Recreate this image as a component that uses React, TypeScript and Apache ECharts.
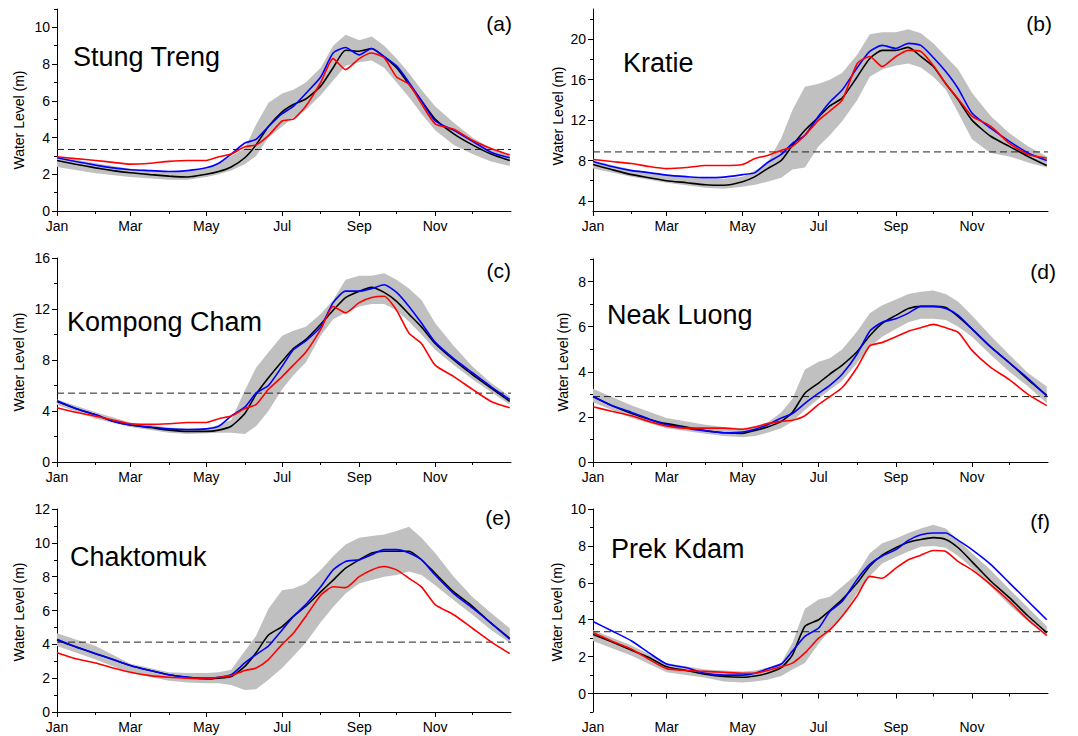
import React, { useEffect, useRef } from 'react';
import * as echarts from 'echarts';

// ---------- shared axes data ----------
const DAYS = [0, 15, 31, 45, 59, 75, 90, 105, 120, 130, 140, 151, 160, 170, 181, 190, 200, 212, 222, 232, 243, 253, 263, 273, 283, 293, 304, 319, 334, 349, 364];
const BAND_DAYS = [0, 31, 59, 90, 105, 120, 130, 140, 151, 160, 170, 181, 190, 200, 212, 222, 232, 243, 253, 263, 273, 283, 293, 304, 319, 334, 349, 364];
const MONTH_TICKS = [0, 59, 120, 181, 243, 304];
const MONTH_LABELS = ['Jan', 'Mar', 'May', 'Jul', 'Sep', 'Nov'];
const MONTH_MINOR_TICKS = [31, 90, 151, 212, 273, 334];

// ---------- (a) Stung Treng ----------
const stungTrengBlack = [2.75, 2.55, 2.35, 2.2, 2.08, 1.98, 1.9, 1.85, 2.0, 2.15, 2.4, 2.9, 3.6, 4.6, 5.4, 5.8, 6.1, 6.8, 7.8, 8.75, 8.7, 8.85, 8.4, 7.8, 6.9, 6.0, 5.0, 4.2, 3.6, 3.1, 2.75];
const stungTrengBlue = [2.9, 2.7, 2.5, 2.35, 2.25, 2.2, 2.15, 2.2, 2.35, 2.6, 3.1, 3.7, 3.9, 4.6, 5.3, 5.7, 6.4, 7.3, 8.6, 8.9, 8.5, 8.85, 8.4, 7.9, 7.0, 6.0, 4.9, 4.4, 3.8, 3.2, 2.9];
const stungTrengRed = [2.95, 2.85, 2.75, 2.65, 2.55, 2.6, 2.7, 2.75, 2.75, 2.95, 3.1, 3.5, 3.6, 4.1, 4.9, 5.0, 5.7, 7.0, 8.3, 7.7, 8.3, 8.6, 8.35, 7.3, 6.9, 5.85, 4.75, 4.45, 3.85, 3.4, 3.05];
const stungTrengUpper = [3.0, 2.6, 2.3, 2.15, 2.15, 2.3, 2.6, 3.0, 3.4, 4.7, 5.9, 6.4, 6.6, 7.0, 7.8, 9.0, 9.6, 9.3, 9.5, 9.0, 8.3, 7.5, 6.6, 5.7, 4.8, 4.0, 3.4, 3.0];
const stungTrengLower = [2.4, 2.05, 1.85, 1.7, 1.7, 1.85, 2.0, 2.2, 2.55, 3.0, 4.0, 4.6, 5.1, 5.5, 6.3, 7.1, 7.9, 8.1, 8.2, 7.8, 7.0, 6.2, 5.3, 4.4, 3.6, 3.1, 2.7, 2.45];
const stungTrengRef = 3.35;

// ---------- (b) Kratie ----------
const kratieBlack = [7.6, 7.1, 6.6, 6.3, 6.0, 5.8, 5.6, 5.55, 5.9, 6.4, 7.2, 8.0, 9.5, 11.0, 12.3, 13.4, 14.2, 16.3, 18.1, 18.9, 18.9, 19.2, 18.3, 17.3, 15.6, 14.0, 12.0, 10.4, 9.4, 8.4, 7.5];
const kratieBlue = [7.9, 7.4, 7.0, 6.8, 6.55, 6.4, 6.3, 6.35, 6.6, 6.8, 7.8, 8.6, 9.7, 10.5, 12.4, 13.8, 15.0, 17.2, 18.8, 19.4, 19.1, 19.6, 19.4, 18.2, 16.8, 15.1, 12.7, 11.2, 9.9, 8.75, 8.0];
const kratieRed = [8.1, 7.9, 7.7, 7.4, 7.2, 7.3, 7.5, 7.5, 7.6, 8.2, 8.5, 9.0, 9.4, 10.5, 12.0, 12.9, 14.0, 17.6, 18.3, 17.3, 18.3, 18.9, 18.8, 17.4, 15.6, 14.1, 12.4, 11.4, 9.7, 8.6, 8.25];
const kratieUpper = [8.0, 7.1, 6.6, 6.2, 6.2, 6.4, 7.0, 7.8, 10.2, 13.0, 15.3, 15.6, 16.0, 16.7, 18.5, 20.5, 20.7, 20.7, 21.0, 20.6, 19.6, 18.3, 17.0, 14.7, 12.4, 10.7, 9.4, 8.4];
const kratieLower = [7.2, 6.4, 5.8, 5.3, 5.2, 5.4, 5.6, 5.9, 6.3, 7.1, 7.3, 9.4, 10.5, 11.9, 14.0, 16.3, 17.0, 17.4, 17.6, 17.2, 16.3, 15.0, 12.7, 10.1, 8.75, 8.4, 7.8, 7.3];
const kratieRef = 8.85;

// ---------- (c) Kompong Cham ----------
const kompongChamBlack = [4.75, 4.2, 3.7, 3.2, 2.9, 2.7, 2.5, 2.4, 2.4, 2.5, 2.8, 3.8, 5.3, 6.6, 7.9, 8.9, 9.6, 10.8, 11.9, 12.9, 13.4, 13.7, 13.3, 12.6, 11.6, 10.6, 9.3, 8.0, 6.85, 5.8, 4.75];
const kompongChamBlue = [4.8, 4.2, 3.7, 3.2, 2.9, 2.75, 2.6, 2.55, 2.6, 2.8, 3.6, 4.3, 5.4, 6.0, 7.5, 8.8, 9.5, 10.6, 12.5, 13.4, 13.4, 13.6, 13.9, 13.3, 12.2, 10.9, 9.4, 8.1, 7.0, 5.9, 4.9];
const kompongChamRed = [4.25, 3.9, 3.6, 3.3, 3.0, 2.95, 3.0, 3.1, 3.1, 3.4, 3.6, 4.2, 4.5, 5.7, 6.7, 7.6, 8.6, 10.4, 12.2, 11.7, 12.5, 12.9, 13.0, 11.9, 10.1, 9.3, 7.6, 6.7, 5.7, 4.75, 4.25];
const kompongChamUpper = [4.9, 3.9, 3.1, 2.7, 2.6, 2.65, 2.9, 3.3, 5.6, 7.4, 8.6, 9.9, 10.3, 10.6, 11.6, 12.7, 14.3, 14.6, 14.6, 14.8, 14.3, 13.6, 12.7, 10.9, 9.1, 7.5, 6.2, 5.15];
const kompongChamLower = [4.5, 3.4, 2.75, 2.3, 2.2, 2.25, 2.3, 2.3, 2.2, 2.8, 4.0, 5.7, 6.8, 7.8, 9.9, 11.2, 11.7, 12.2, 12.4, 12.4, 11.9, 11.0, 10.0, 8.8, 7.6, 6.5, 5.5, 4.5];
const kompongChamRef = 5.4;

// ---------- (d) Neak Luong ----------
const neakLuongBlack = [2.9, 2.5, 2.15, 1.9, 1.7, 1.55, 1.4, 1.3, 1.27, 1.4, 1.55, 1.8, 2.2, 3.05, 3.5, 3.9, 4.3, 4.9, 5.6, 6.15, 6.5, 6.8, 6.9, 6.9, 6.85, 6.45, 5.9, 5.1, 4.4, 3.65, 2.95];
const neakLuongBlue = [2.9, 2.5, 2.2, 1.9, 1.65, 1.5, 1.38, 1.3, 1.33, 1.45, 1.65, 1.95, 2.15, 2.6, 3.05, 3.4, 3.9, 4.8, 5.8, 6.2, 6.35, 6.6, 6.9, 6.9, 6.8, 6.5, 5.9, 5.1, 4.4, 3.7, 2.93];
const neakLuongRed = [2.45, 2.25, 2.05, 1.8, 1.6, 1.5, 1.5, 1.5, 1.45, 1.55, 1.7, 1.8, 1.85, 2.05, 2.55, 2.9, 3.3, 4.2, 5.15, 5.3, 5.55, 5.8, 5.95, 6.1, 5.95, 5.75, 4.95, 4.2, 3.65, 3.0, 2.5];
const neakLuongUpper = [3.25, 2.5, 1.95, 1.65, 1.55, 1.5, 1.6, 1.75, 2.2, 2.8, 4.1, 4.45, 4.6, 5.0, 5.8, 6.6, 6.95, 7.2, 7.45, 7.55, 7.6, 7.45, 7.1, 6.5, 5.6, 4.75, 3.95, 3.35];
const neakLuongLower = [2.65, 1.95, 1.5, 1.25, 1.15, 1.1, 1.15, 1.3, 1.5, 1.8, 2.3, 2.8, 3.2, 3.6, 4.4, 5.1, 5.55, 5.9, 6.2, 6.35, 6.35, 6.3, 6.0, 5.55, 4.75, 4.0, 3.35, 2.6];
const neakLuongRef = 2.9;

// ---------- (e) Chaktomuk ----------
const chaktomukBlack = [4.25, 3.85, 3.45, 3.1, 2.75, 2.45, 2.2, 2.05, 1.95, 2.0, 2.1, 2.7, 3.5, 4.55, 5.05, 5.65, 6.25, 7.1, 7.8, 8.5, 9.0, 9.4, 9.5, 9.5, 9.5, 9.0, 8.2, 7.1, 6.25, 5.25, 4.35];
const chaktomukBlue = [4.3, 3.85, 3.45, 3.1, 2.75, 2.45, 2.2, 2.05, 2.0, 2.05, 2.2, 2.9, 3.4, 3.9, 4.85, 5.65, 6.35, 7.4, 8.4, 8.9, 9.0, 9.3, 9.6, 9.6, 9.4, 9.0, 8.1, 7.0, 6.15, 5.25, 4.3];
const chaktomukRed = [3.5, 3.15, 2.9, 2.6, 2.35, 2.15, 2.05, 2.0, 1.95, 2.05, 2.15, 2.45, 2.6, 3.1, 4.0, 4.65, 5.65, 6.9, 7.4, 7.35, 8.0, 8.4, 8.6, 8.4, 7.9, 7.4, 6.35, 5.75, 4.95, 4.15, 3.45];
const chaktomukUpper = [4.65, 3.9, 2.85, 2.35, 2.3, 2.3, 2.35, 2.5, 3.6, 4.5, 6.1, 7.2, 7.3, 7.6, 8.4, 9.2, 9.9, 10.3, 10.4, 10.5, 10.7, 10.95, 10.3, 9.4, 8.0, 6.8, 5.85, 4.95];
const chaktomukLower = [3.9, 3.1, 2.3, 1.85, 1.75, 1.7, 1.7, 1.6, 1.3, 1.35, 1.9, 2.6, 3.3, 4.1, 5.3, 6.2, 7.0, 7.6, 7.8, 8.0, 8.1, 8.3, 8.1, 7.5, 6.6, 5.75, 4.85, 4.1];
const chaktomukRef = 4.13;

// ---------- (f) Prek Kdam ----------
const prekKdamBlack = [3.2, 2.8, 2.35, 1.95, 1.45, 1.25, 1.05, 0.92, 0.88, 0.95, 1.1, 1.4, 2.1, 3.65, 4.0, 4.5, 5.1, 6.0, 6.9, 7.5, 7.9, 8.2, 8.35, 8.45, 8.35, 7.9, 7.15, 6.1, 5.2, 4.2, 3.3];
const prekKdamBlue = [3.9, 3.4, 2.85, 2.2, 1.6, 1.4, 1.1, 1.0, 1.0, 1.1, 1.35, 1.6, 2.3, 3.1, 3.55, 4.45, 5.0, 6.2, 7.0, 7.45, 7.8, 8.3, 8.6, 8.7, 8.7, 8.3, 7.8, 7.0, 6.0, 5.0, 4.0];
const prekKdamRed = [3.3, 2.85, 2.4, 1.85, 1.35, 1.25, 1.2, 1.15, 1.1, 1.1, 1.25, 1.45, 1.65, 2.2, 3.0, 3.45, 4.2, 5.3, 6.35, 6.25, 6.8, 7.25, 7.5, 7.75, 7.7, 7.15, 6.7, 5.9, 5.0, 4.0, 3.15];
const prekKdamUpper = [3.45, 2.6, 1.65, 1.3, 1.25, 1.2, 1.25, 1.4, 1.65, 2.75, 4.6, 5.1, 5.25, 5.8, 6.5, 7.6, 8.15, 8.4, 8.7, 8.95, 9.15, 8.95, 8.3, 7.6, 6.7, 5.65, 4.65, 3.65];
const prekKdamLower = [2.85, 2.05, 1.15, 0.85, 0.65, 0.6, 0.65, 0.75, 0.95, 1.3, 1.65, 2.7, 3.45, 4.2, 5.45, 6.35, 7.05, 7.4, 7.7, 7.95, 8.0, 7.9, 7.45, 6.8, 5.8, 4.8, 3.9, 3.1];
const prekKdamRef = 3.35;

// ---------- panel definitions ----------
const PANELS = [
  { name: 'Stung Treng', tag: '(a)', black: stungTrengBlack, blue: stungTrengBlue, red: stungTrengRed, upper: stungTrengUpper, lower: stungTrengLower, ref: stungTrengRef, yMin: 0, yMax: 11, yLabels: [0, 2, 4, 6, 8, 10], yMinor: [1, 3, 5, 7, 9, 11] },
  { name: 'Kratie', tag: '(b)', black: kratieBlack, blue: kratieBlue, red: kratieRed, upper: kratieUpper, lower: kratieLower, ref: kratieRef, yMin: 3, yMax: 23, yLabels: [4, 8, 12, 16, 20], yMinor: [6, 10, 14, 18, 22] },
  { name: 'Kompong Cham', tag: '(c)', black: kompongChamBlack, blue: kompongChamBlue, red: kompongChamRed, upper: kompongChamUpper, lower: kompongChamLower, ref: kompongChamRef, yMin: 0, yMax: 16, yLabels: [0, 4, 8, 12, 16], yMinor: [2, 6, 10, 14] },
  { name: 'Neak Luong', tag: '(d)', black: neakLuongBlack, blue: neakLuongBlue, red: neakLuongRed, upper: neakLuongUpper, lower: neakLuongLower, ref: neakLuongRef, yMin: 0, yMax: 9, yLabels: [0, 2, 4, 6, 8], yMinor: [1, 3, 5, 7, 9] },
  { name: 'Chaktomuk', tag: '(e)', black: chaktomukBlack, blue: chaktomukBlue, red: chaktomukRed, upper: chaktomukUpper, lower: chaktomukLower, ref: chaktomukRef, yMin: 0, yMax: 12, yLabels: [0, 2, 4, 6, 8, 10, 12], yMinor: [1, 3, 5, 7, 9, 11] },
  { name: 'Prek Kdam', tag: '(f)', black: prekKdamBlack, blue: prekKdamBlue, red: prekKdamRed, upper: prekKdamUpper, lower: prekKdamLower, ref: prekKdamRef, yMin: -1, yMax: 10, yLabels: [0, 2, 4, 6, 8, 10], yMinor: [-1, 1, 3, 5, 7, 9] },
];

// layout (pixels)
const LAYOUT = [
  { grid: { left: 57, top: 9, width: 454, height: 202 }, title: [73, 57], tag: [512, 23], yname: [19, 120] },
  { grid: { left: 593, top: 9, width: 455, height: 202 }, title: [623, 63], tag: [1052, 23], yname: [558, 116] },
  { grid: { left: 57, top: 258, width: 454, height: 204 }, title: [67, 322], tag: [511, 270], yname: [19, 362] },
  { grid: { left: 593, top: 259, width: 455, height: 203 }, title: [607, 315], tag: [1056, 271], yname: [563, 362] },
  { grid: { left: 57, top: 509, width: 454, height: 203 }, title: [70, 557], tag: [511, 517], yname: [19, 612] },
  { grid: { left: 593, top: 509, width: 455, height: 203 }, title: [611, 549], tag: [1050, 521], yname: [557, 612] },
];

const FONT = '"Liberation Sans", Arial, Helvetica, sans-serif';

function buildOption() {
  const grid: any[] = [];
  const xAxis: any[] = [];
  const yAxis: any[] = [];
  const series: any[] = [];
  const graphic: any[] = [];

  PANELS.forEach((p, i) => {
    const L = LAYOUT[i];
    grid.push({ ...L.grid, containLabel: false });
    const axLine = { show: true, lineStyle: { color: '#000', width: 1 } };
    xAxis.push({
      type: 'value', gridIndex: i, min: 0, max: 365, position: 'bottom',
      axisLine: axLine,
      axisTick: { show: true, length: 5, customValues: MONTH_TICKS, lineStyle: { color: '#000' } },
      axisLabel: {
        show: true, customValues: MONTH_TICKS, color: '#000', fontSize: 14, fontFamily: FONT, margin: 8,
        formatter: (v: number) => { const k = MONTH_TICKS.indexOf(Math.round(v)); return k >= 0 ? MONTH_LABELS[k] : ''; },
      },
      splitLine: { show: false },
    });
    xAxis.push({
      type: 'value', gridIndex: i, min: 0, max: 365, position: 'bottom',
      axisLine: { show: false },
      axisTick: { show: true, length: 3, customValues: MONTH_MINOR_TICKS, lineStyle: { color: '#000' } },
      axisLabel: { show: false },
      splitLine: { show: false },
    });
    yAxis.push({
      type: 'value', gridIndex: i, min: p.yMin, max: p.yMax, position: 'left',
      axisLine: axLine,
      axisTick: { show: true, length: 5, customValues: p.yLabels, lineStyle: { color: '#000' } },
      axisLabel: { show: true, customValues: p.yLabels, color: '#000', fontSize: 14, fontFamily: FONT, margin: 7 },
      splitLine: { show: false },
    });
    yAxis.push({
      type: 'value', gridIndex: i, min: p.yMin, max: p.yMax, position: 'left',
      axisLine: { show: false },
      axisTick: { show: true, length: 3, customValues: p.yMinor, lineStyle: { color: '#000' } },
      axisLabel: { show: false },
      splitLine: { show: false },
    });

    const xi = 2 * i;
    const yi = 2 * i;
    const upper = p.upper;
    const lower = p.lower;
    series.push({
      type: 'custom', xAxisIndex: xi, yAxisIndex: yi, silent: true, z: 1,
      data: BAND_DAYS.map((d, k) => [d, lower[k], upper[k]]),
      encode: { x: 0, y: [1, 2] },
      renderItem: (params: any, api: any) => {
        if (params.dataIndex !== 0) return null;
        const pts: number[][] = [];
        for (let k = 0; k < BAND_DAYS.length; k++) pts.push(api.coord([BAND_DAYS[k], upper[k]]));
        for (let k = BAND_DAYS.length - 1; k >= 0; k--) pts.push(api.coord([BAND_DAYS[k], lower[k]]));
        return { type: 'polygon', shape: { points: pts, smooth: 0 }, style: { fill: '#c0c0c0', stroke: 'none' } };
      },
    });
    series.push({
      type: 'line', xAxisIndex: xi, yAxisIndex: yi, z: 2, silent: true,
      data: [[0, p.ref], [365, p.ref]], symbol: 'none',
      lineStyle: { color: '#222', width: 1, type: [7, 4] },
    });
    const mk = (vals: number[], color: string, z: number) => ({
      type: 'line', xAxisIndex: xi, yAxisIndex: yi, z, silent: true,
      data: DAYS.map((d, k) => [d, vals[k]]), symbol: 'none', smooth: 0.2,
      lineStyle: { color, width: 1.6 },
    });
    series.push(mk(p.black, '#000000', 3));
    series.push(mk(p.blue, '#0000ff', 4));
    series.push(mk(p.red, '#ff0000', 5));

    graphic.push({
      type: 'text', x: L.title[0], y: L.title[1], silent: true,
      style: { text: p.name, font: `27px ${FONT}`, fill: '#000', textAlign: 'left', textVerticalAlign: 'middle' },
    });
    graphic.push({
      type: 'text', x: L.tag[0], y: L.tag[1], silent: true,
      style: { text: p.tag, font: `21px ${FONT}`, fill: '#000', textAlign: 'right', textVerticalAlign: 'middle' },
    });
    graphic.push({
      type: 'text', x: L.yname[0], y: L.yname[1], rotation: Math.PI / 2, silent: true,
      style: { text: 'Water Level (m)', font: `14px ${FONT}`, fill: '#000', textAlign: 'center', textVerticalAlign: 'middle' },
    });
  });

  return {
    animation: false,
    backgroundColor: '#ffffff',
    textStyle: { fontFamily: FONT },
    grid, xAxis, yAxis, series, graphic,
  };
}

export default function App() {
  const ref = useRef<HTMLDivElement>(null);
  useEffect(() => {
    document.body.style.margin = '0';
    if (!ref.current) return;
    const chart = echarts.init(ref.current, undefined, { renderer: 'svg' });
    chart.setOption(buildOption() as any);
    return () => chart.dispose();
  }, []);
  return <div ref={ref} style={{ width: 1078, height: 736, position: 'absolute', left: 0, top: 0 }} />;
}
